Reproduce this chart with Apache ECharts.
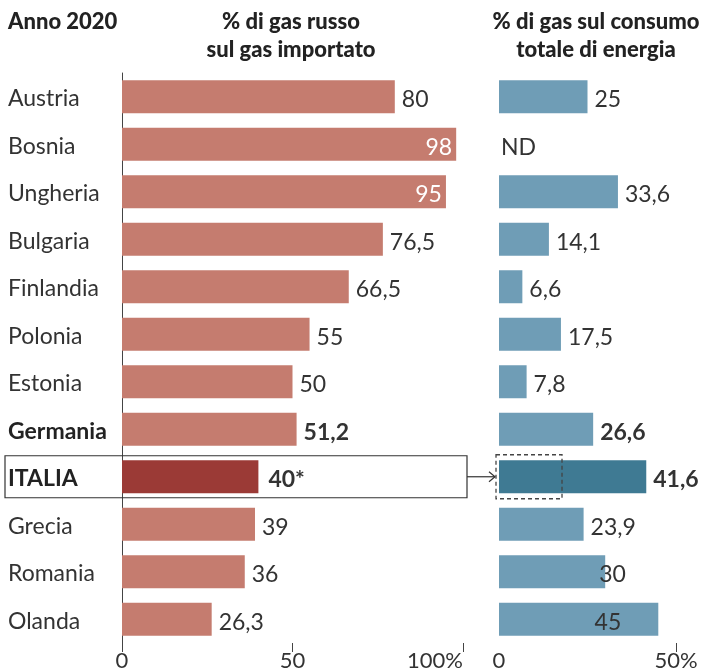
<!DOCTYPE html>
<html><head><meta charset="utf-8">
<script src="https://cdn.jsdelivr.net/npm/echarts/dist/echarts.min.js"></script>
<style>html,body{margin:0;padding:0;background:#fff}#c{width:714px;height:672px}</style>
</head><body><div id="c"></div>
<script>
// ---- data ----
const categories = ['Austria','Bosnia','Ungheria','Bulgaria','Finlandia','Polonia','Estonia','Germania','ITALIA','Grecia','Romania','Olanda'];
const russianShare = [80, 98, 95, 76.5, 66.5, 55, 50, 51.2, 40, 39, 36, 26.3];
const gasShare = [25, null, 33.6, 14.1, 6.6, 17.5, 7.8, 26.6, 41.6, 23.9, 30, 45];
const italiaRussianPart = 17.8;
const leftTicks = [0, 50, 100];
const leftTickLabels = ['0', '50', '100%'];
const rightTicks = [0, 50];
const rightTickLabels = ['0', '50%'];
const titleMain = 'Anno 2020';
const titleLeft = ['% di gas russo', 'sul gas importato'];
const titleRight = ['% di gas sul consumo', 'totale di energia'];
const notAvailable = 'ND';
const italiaNote = '*';

// ---- styling ----
const FONT = "Lato, 'Open Sans', sans-serif";
const TXT = '#333';
const FS = 23;
const boldCats = ['Germania', 'ITALIA'];
const highlight = 'ITALIA';
const leftInside = ['Bosnia', 'Ungheria'];
const rightOverrides = {
  Romania: { position: 'right', offset: [-13, 3] },
  Olanda: { position: 'insideRight', offset: [-30, 3] }
};
const fmt = v => String(v).replace('.', ',');

const leftData = russianShare.map((v, i) => {
  const c = categories[i];
  const bold = boldCats.includes(c);
  const inside = leftInside.includes(c);
  return {
    value: v,
    itemStyle: { color: c === highlight ? '#9b3a36' : '#c57c6f' },
    label: {
      show: true,
      position: inside ? 'insideRight' : 'right',
      distance: inside ? 4 : (c === highlight ? 10 : 7),
      offset: [0, 3],
      color: inside ? '#fff' : TXT,
      fontWeight: bold ? 'bold' : 'normal',
      fontSize: FS, fontFamily: FONT,
      formatter: () => fmt(v) + (c === highlight ? italiaNote : '')
    }
  };
});

const rightData = gasShare.map((v, i) => {
  const c = categories[i];
  const bold = boldCats.includes(c);
  const ov = rightOverrides[c] || {};
  return {
    value: v === null ? 0 : v,
    itemStyle: { color: c === highlight ? '#3f7a93' : '#6f9db6' },
    label: {
      show: true,
      position: ov.position || 'right',
      distance: v === null ? 2 : 7,
      offset: ov.offset || [0, 3],
      color: TXT,
      fontWeight: bold ? 'bold' : 'normal',
      fontSize: FS, fontFamily: FONT,
      formatter: () => v === null ? notAvailable : fmt(v)
    }
  };
});

const chart = echarts.init(document.getElementById('c'), null, { renderer: 'canvas' });
const gridTop = 73, gridBottom = 29;
chart.setOption({
  backgroundColor: '#fff',
  animation: false,
  grid: [
    { left: 122, right: 714 - 463, top: gridTop, bottom: gridBottom },
    { left: 499, right: 714 - 676, top: gridTop, bottom: gridBottom }
  ],
  xAxis: [
    {
      gridIndex: 0, type: 'value', min: 0, max: 100, interval: 50,
      axisLine: { show: false }, splitLine: { show: false },
      axisTick: { show: true, customValues: leftTicks, length: 9, lineStyle: { color: '#444', width: 1 } },
      axisLabel: {
        customValues: leftTicks, margin: 7, color: TXT, fontSize: 22, fontFamily: FONT,
        alignMaxLabel: 'right',
        formatter: v => leftTickLabels[leftTicks.indexOf(v)]
      }
    },
    {
      gridIndex: 1, type: 'value', min: 0, max: 50, interval: 50,
      axisLine: { show: false }, splitLine: { show: false },
      axisTick: { show: true, customValues: [rightTicks[1]], length: 9, lineStyle: { color: '#444', width: 1 } },
      axisLabel: {
        customValues: rightTicks, margin: 7, color: TXT, fontSize: 22, fontFamily: FONT,
        formatter: v => rightTickLabels[rightTicks.indexOf(v)]
      }
    }
  ],
  yAxis: [
    {
      gridIndex: 0, type: 'category', data: categories, inverse: true,
      axisLine: { show: true, lineStyle: { color: '#444', width: 1 } },
      axisTick: { show: false },
      axisLabel: {
        margin: 114, align: 'left', color: TXT, fontSize: FS, fontFamily: FONT,
        formatter: c => boldCats.includes(c) ? '{b|' + c + '}' : '{n|' + c + '}',
        rich: {
          b: { fontWeight: 'bold', fontSize: FS, fontFamily: FONT, color: '#222', padding: [4, 0, 0, 0] },
          n: { fontSize: FS, fontFamily: FONT, color: TXT, padding: [4, 0, 0, 0] }
        }
      }
    },
    {
      gridIndex: 1, type: 'category', data: categories, inverse: true,
      axisLine: { show: false }, axisTick: { show: false }, axisLabel: { show: false }
    }
  ],
  series: [
    { type: 'bar', xAxisIndex: 0, yAxisIndex: 0, barWidth: 33, data: leftData, z: 3 },
    { type: 'bar', xAxisIndex: 1, yAxisIndex: 1, barWidth: 33, data: rightData, z: 3 }
  ]
});

const yI = chart.convertToPixel({ yAxisIndex: 0 }, highlight);
const x0r = chart.convertToPixel({ xAxisIndex: 1 }, 0);
const xDash = chart.convertToPixel({ xAxisIndex: 1 }, italiaRussianPart);
const boxRight = 467;
const titleFont = '900 22px ' + FONT;

chart.setOption({
  graphic: [
    { type: 'text', x: 8, y: 22, style: { text: titleMain, font: titleFont, fill: '#222', verticalAlign: 'middle' } },
    { type: 'text', x: 291, y: 22, style: { text: titleLeft[0], font: titleFont, fill: '#222', align: 'center', verticalAlign: 'middle' } },
    { type: 'text', x: 291, y: 50, style: { text: titleLeft[1], font: titleFont, fill: '#222', align: 'center', verticalAlign: 'middle' } },
    { type: 'text', x: 596, y: 22, style: { text: titleRight[0], font: titleFont, fill: '#222', align: 'center', verticalAlign: 'middle' } },
    { type: 'text', x: 596, y: 50, style: { text: titleRight[1], font: titleFont, fill: '#222', align: 'center', verticalAlign: 'middle' } },
    { type: 'rect', z: 10, shape: { x: 5, y: yI - 21, width: boxRight - 5, height: 42 },
      style: { fill: 'none', stroke: '#333', lineWidth: 1.2 } },
    { type: 'polyline', z: 10, shape: { points: [[boxRight, yI], [x0r - 4, yI]] },
      style: { stroke: '#333', lineWidth: 1.2, fill: 'none' } },
    { type: 'polyline', z: 10, shape: { points: [[x0r - 10, yI - 5], [x0r - 4, yI], [x0r - 10, yI + 5]] },
      style: { stroke: '#333', lineWidth: 1.2, fill: 'none' } },
    { type: 'rect', z: 10, shape: { x: x0r - 3, y: yI - 22, width: xDash - x0r + 3, height: 44 },
      style: { fill: 'none', stroke: '#444', lineWidth: 1.3, lineDash: [4, 3] } }
  ]
});
</script>
</body></html>
